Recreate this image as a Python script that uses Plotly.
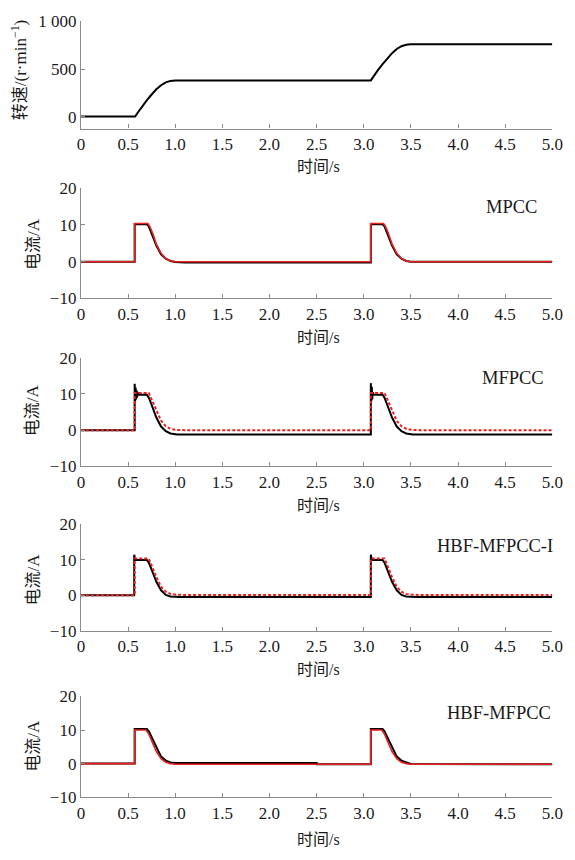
import plotly.graph_objects as go

W, H = 575, 860

# ---------------- data ----------------
# speed (r/min)
t_speed = [0, 0.575, 0.6, 0.65, 0.7, 0.75, 0.8, 0.85, 0.9, 0.95, 1.0, 3.075,
           3.1, 3.15, 3.2, 3.25, 3.3, 3.35, 3.4, 3.45, 3.5, 5.0]
n_speed = [0, 0, 38, 108, 172, 232, 287, 330, 360, 375, 380, 380,
           418, 488, 552, 612, 666, 710, 740, 755, 760, 760]

# MPCC
t_mpcc_ref = [0, 0.57, 0.57, 0.71, 0.73, 0.76, 0.8, 0.85, 0.9, 0.95, 1.0, 3.075,
              3.075, 3.21, 3.23, 3.26, 3.3, 3.35, 3.4, 3.45, 3.5, 5.0]
i_mpcc_ref = [0, 0, 10.4, 10.4, 9.6, 7.8, 4.8, 2.3, 0.9, 0.2, 0.0, 0.0,
              10.4, 10.4, 9.6, 7.8, 4.8, 2.3, 0.9, 0.2, 0.0, 0.0]
t_mpcc = [0, 0.57, 0.57, 0.70, 0.72, 0.75, 0.8, 0.85, 0.9, 0.95, 1.0, 1.1, 3.075,
          3.075, 3.2, 3.22, 3.25, 3.3, 3.35, 3.4, 3.45, 3.5, 5.0]
i_mpcc = [0, 0, 10.2, 10.2, 9.6, 7.8, 4.4, 2.0, 0.8, 0.2, -0.1, -0.2, -0.2,
          10.2, 10.2, 9.6, 7.8, 4.4, 2.0, 0.8, 0.2, 0.0, 0.0]

# MFPCC
t_mfpcc_ref = [0, 0.57, 0.57, 0.72, 0.75, 0.8, 0.85, 0.9, 0.95, 1.0, 1.1, 3.075,
               3.075, 3.22, 3.25, 3.3, 3.35, 3.4, 3.45, 3.5, 3.6, 5.0]
i_mfpcc_ref = [0, 0, 10.3, 10.3, 8.5, 5.3, 2.6, 1.1, 0.4, 0.1, 0.0, 0.0,
               10.3, 10.3, 8.5, 5.3, 2.6, 1.1, 0.4, 0.1, 0.0, 0.0]
t_mfpcc = [0, 0.57, 0.57, 0.575, 0.58, 0.585, 0.59, 0.595, 0.6, 0.61, 0.7, 0.72,
           0.75, 0.8, 0.85, 0.9, 0.95, 1.0, 1.02, 3.075,
           3.075, 3.08, 3.085, 3.09, 3.095, 3.1, 3.2, 3.22,
           3.25, 3.3, 3.35, 3.4, 3.45, 3.5, 3.52, 5.0]
i_mfpcc = [0, 0, 12.8, 8.0, 11.8, 8.5, 11.0, 9.0, 10.5, 9.8, 9.8, 9.0,
           7.0, 3.5, 1.0, -0.3, -0.9, -1.1, -1.2, -1.2,
           13.0, 8.0, 12.0, 8.5, 10.5, 9.8, 9.8, 9.0,
           7.0, 3.5, 1.0, -0.3, -0.9, -1.1, -1.2, -1.2]

# HBF-MFPCC-I
t_hbfi_ref = [0, 0.57, 0.57, 0.72, 0.75, 0.8, 0.85, 0.9, 0.95, 1.0, 1.1, 3.075,
              3.075, 3.22, 3.25, 3.3, 3.35, 3.4, 3.45, 3.5, 3.6, 5.0]
i_hbfi_ref = [0, 0, 10.3, 10.3, 8.4, 5.1, 2.4, 1.0, 0.4, 0.2, 0.1, 0.1,
              10.3, 10.3, 8.4, 5.1, 2.4, 1.0, 0.4, 0.2, 0.1, 0.1]
t_hbfi = [0, 0.565, 0.565, 0.575, 0.7, 0.72, 0.75, 0.8, 0.85, 0.9, 0.95, 1.0, 1.05, 3.075,
          3.075, 3.085, 3.2, 3.22, 3.25, 3.3, 3.35, 3.4, 3.45, 3.5, 3.55, 5.0]
i_hbfi = [0, 0, 11.4, 9.9, 9.9, 9.2, 7.2, 3.8, 1.4, 0.1, -0.3, -0.4, -0.45, -0.45,
          11.4, 9.9, 9.9, 9.2, 7.2, 3.8, 1.4, 0.1, -0.3, -0.4, -0.45, -0.45]

# HBF-MFPCC
t_hbf_ref = [0, 0.57, 0.57, 0.69, 0.72, 0.75, 0.8, 0.85, 0.9, 0.95, 1.0, 3.075,
             3.075, 3.19, 3.22, 3.25, 3.3, 3.35, 3.4, 3.45, 3.5, 5.0]
i_hbf_ref = [0, 0, 10.0, 10.0, 8.8, 6.8, 3.6, 1.5, 0.4, 0.0, -0.2, -0.2,
             10.0, 10.0, 8.8, 6.8, 3.6, 1.5, 0.4, 0.0, -0.2, -0.2]
t_hbf = [0, 0.57, 0.57, 0.7, 0.72, 0.75, 0.8, 0.85, 0.9, 0.95, 1.0, 2.5, 2.5, 3.075,
         3.075, 3.2, 3.22, 3.25, 3.3, 3.35, 3.4, 3.45, 3.5, 5.0]
i_hbf = [0, 0, 10.3, 10.3, 9.6, 7.9, 4.6, 2.1, 0.9, 0.35, 0.2, 0.2, -0.2, -0.2,
         10.3, 10.3, 9.6, 7.9, 4.6, 2.1, 0.9, 0.3, -0.1, -0.2]

x_ticks = [0, 0.5, 1.0, 1.5, 2.0, 2.5, 3.0, 3.5, 4.0, 4.5, 5.0]
x_ticktext = ["0", "0.5", "1.0", "1.5", "2.0", "2.5", "3.0", "3.5", "4.0", "4.5", "5.0"]
speed_ticks = [0, 500, 1000]
speed_ticktext = ["0", "500", "1 000"]
cur_ticks = [-10, 0, 10, 20]
cur_ticktext = ["\u221210", "0", "10", "20"]

methods = ["MPCC", "MFPCC", "HBF-MFPCC-I", "HBF-MFPCC"]
ref_series = [(t_mpcc_ref, i_mpcc_ref), (t_mfpcc_ref, i_mfpcc_ref),
              (t_hbfi_ref, i_hbfi_ref), (t_hbf_ref, i_hbf_ref)]
meas_series = [(t_mpcc, i_mpcc), (t_mfpcc, i_mfpcc), (t_hbfi, i_hbfi), (t_hbf, i_hbf)]
ref_dash = ["solid", "3px,2px", "3px,2px", "solid"]

# ---------------- layout (pixel geometry) ----------------
X0, X1 = 79, 563
panels = [  # (top px, bottom px)
    (12.7, 122.2),
    (183.3, 296.0),
    (356.7, 467.7),
    (526.7, 636.0),
    (703.0, 806.0),
]
xtitle_y = [160, 334, 506, 674, 848]
ytitle_y = [63, 240, 410, 583, 753]
method_pos = [(521, 202), (523, 377), (504, 549), (508, 720)]

SERIF = "Liberation Serif"
CJK = "Noto Sans CJK SC"
AXCOL = "#8a8a8a"
TXT = "#1a1a1a"


def px(v):
    return v / W


def py(v):
    return 1 - v / H


def serif(s):
    return "<span style='font-family:Liberation Serif'>%s</span>" % s


fig = go.Figure()

fig.add_trace(go.Scatter(x=t_speed, y=n_speed, mode="lines",
                         line=dict(color="black", width=2), xaxis="x", yaxis="y",
                         showlegend=False))

for k in range(4):
    xa = "x%d" % (k + 2)
    ya = "y%d" % (k + 2)
    tr, ir = ref_series[k]
    tm, im = meas_series[k]
    fig.add_trace(go.Scatter(x=tm, y=im, mode="lines",
                             line=dict(color="black", width=2), xaxis=xa, yaxis=ya,
                             showlegend=False))
    fig.add_trace(go.Scatter(x=tr, y=ir, mode="lines",
                             line=dict(color="#e8201e", width=1.6 if ref_dash[k] == "solid" else 2,
                                       dash=ref_dash[k]),
                             xaxis=xa, yaxis=ya, showlegend=False))

layout = dict(width=W, height=H, margin=dict(l=0, r=0, t=0, b=0),
              paper_bgcolor="white", plot_bgcolor="white", showlegend=False,
              font=dict(family=SERIF, size=17, color=TXT))

annotations = []
for k, (top, bot) in enumerate(panels):
    sfx = "" if k == 0 else str(k + 1)
    xname = "xaxis" + sfx
    yname = "yaxis" + sfx
    layout[xname] = dict(domain=[px(X0), px(X1)], range=[0, 5.0], anchor="y" + sfx,
                         tickvals=x_ticks, ticktext=x_ticktext, ticks="inside", ticklen=4,
                         tickcolor=AXCOL, showline=True, linecolor=AXCOL, linewidth=1.2,
                         showgrid=False, zeroline=False,
                         tickfont=dict(family=SERIF, size=17, color=TXT))
    if k == 0:
        yr, yv, yt = [-125, 1000], speed_ticks, speed_ticktext
    else:
        yr, yv, yt = [-10, 20], cur_ticks, cur_ticktext
    layout[yname] = dict(domain=[py(bot), py(top)], range=yr, anchor="x" + sfx,
                         tickvals=yv, ticktext=yt, ticks="inside", ticklen=4,
                         tickcolor=AXCOL, showline=True, linecolor=AXCOL, linewidth=1.2,
                         showgrid=False, zeroline=False,
                         tickfont=dict(family=SERIF, size=17, color=TXT))
    annotations.append(dict(text="时间" + serif("/s"), x=px(323), y=py(xtitle_y[k]),
                            xref="paper", yref="paper",
                            xanchor="center", yanchor="middle", showarrow=False,
                            font=dict(family=CJK, size=16, color=TXT)))
    if k == 0:
        annotations.append(dict(text="转速" + serif("/(r·min<sup>−1</sup>)"), x=px(15),
                                y=py(ytitle_y[k]),
                                xref="paper", yref="paper", xanchor="center", yanchor="middle",
                                textangle=-90, showarrow=False,
                                font=dict(family=CJK, size=17, color=TXT)))
    else:
        annotations.append(dict(text="电流" + serif("/A"), x=px(28), y=py(ytitle_y[k]),
                                xref="paper", yref="paper", xanchor="center", yanchor="middle",
                                textangle=-90, showarrow=False,
                                font=dict(family=CJK, size=17, color=TXT)))
        mx, my = method_pos[k - 1]
        annotations.append(dict(text=methods[k - 1], x=px(mx), y=py(my), xref="paper", yref="paper",
                                xanchor="center", yanchor="middle", showarrow=False,
                                font=dict(family=SERIF, size=18.5, color=TXT)))

layout["annotations"] = annotations
fig.update_layout(**layout)
fig.write_html("out.html")
